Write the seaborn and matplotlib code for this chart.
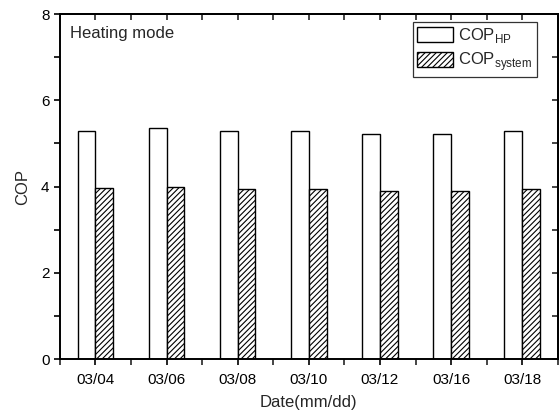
import pandas as pd
import seaborn as sns
import matplotlib.pyplot as plt
from matplotlib.ticker import MultipleLocator, FixedLocator

# data
dates = ["03/04", "03/06", "03/08", "03/10", "03/12", "03/16", "03/18"]
cop_hp = [5.29, 5.35, 5.30, 5.28, 5.22, 5.23, 5.30]
cop_system = [3.96, 4.00, 3.94, 3.95, 3.90, 3.90, 3.95]
series_names = ["COP$_{\\mathrm{HP}}$", "COP$_{\\mathrm{system}}$"]

df = pd.DataFrame({"Date": dates * 2,
                   "COP": cop_hp + cop_system,
                   "Series": [series_names[0]] * len(dates) + [series_names[1]] * len(dates)})

sns.set_style("ticks")
plt.rcParams['font.family'] = ['Liberation Sans', 'DejaVu Sans']
plt.rcParams['mathtext.fontset'] = 'custom'
plt.rcParams['mathtext.rm'] = 'Liberation Sans'
plt.rcParams['hatch.linewidth'] = 0.8

fig, ax = plt.subplots(figsize=(5.6, 4.12), dpi=100)
sns.barplot(data=df, x="Date", y="COP", hue="Series", order=dates,
            palette=["white", "white"], edgecolor="black", linewidth=1.0,
            width=0.5, gap=0, ax=ax)

# hatch the system bars
for patch in ax.containers[1]:
    patch.set_hatch("//////")

ax.set_xlim(-0.5, len(dates) - 0.5)
ax.set_ylim(0, 8)
ax.yaxis.set_major_locator(MultipleLocator(2))
ax.yaxis.set_minor_locator(MultipleLocator(1))
minor_x = [i + 0.5 for i in range(-1, len(dates))]
ax.xaxis.set_minor_locator(FixedLocator(minor_x))
ax.tick_params(axis="y", which="both", direction="out", length=4, width=1.2, labelsize=11, colors="black")
ax.tick_params(axis="x", which="major", direction="inout", length=8, width=1.2, labelsize=11, colors="black", pad=6)
ax.tick_params(axis="x", which="minor", direction="out", length=4, width=1.2)
for s in ax.spines.values():
    s.set_linewidth(1.4)
    s.set_visible(True)
    s.set_color("black")

# inward ticks on top and right spines
top = ax.secondary_xaxis("top")
top.set_xticks([i for i in range(len(dates))])
top.xaxis.set_minor_locator(FixedLocator(minor_x))
top.tick_params(which="both", direction="in", length=4, width=1.2, labeltop=False)
right = ax.secondary_yaxis("right")
right.yaxis.set_major_locator(MultipleLocator(2))
right.yaxis.set_minor_locator(MultipleLocator(1))
right.tick_params(which="both", direction="in", length=4, width=1.2, labelright=False)
for sec in (top, right):
    for s in sec.spines.values():
        s.set_linewidth(1.4)

ax.set_xlabel("Date(mm/dd)", fontsize=12, labelpad=6)
ax.set_ylabel("COP", fontsize=12, labelpad=8)
ax.text(0.02, 0.965, "Heating mode", transform=ax.transAxes, fontsize=12, va="top", ha="left")

leg = ax.legend(loc="upper right", bbox_to_anchor=(0.958, 0.977), fontsize=12, frameon=True,
                fancybox=False, edgecolor="black", handlelength=2.2, handleheight=1.0,
                borderpad=0.25, labelspacing=0.3, handletextpad=0.3, borderaxespad=0)
leg.get_frame().set_linewidth(0.9)
leg.legend_handles[1].set_hatch("//////")

fig.subplots_adjust(left=0.107, right=0.996, top=0.966, bottom=0.128)
fig.savefig("out.png", dpi=100)
